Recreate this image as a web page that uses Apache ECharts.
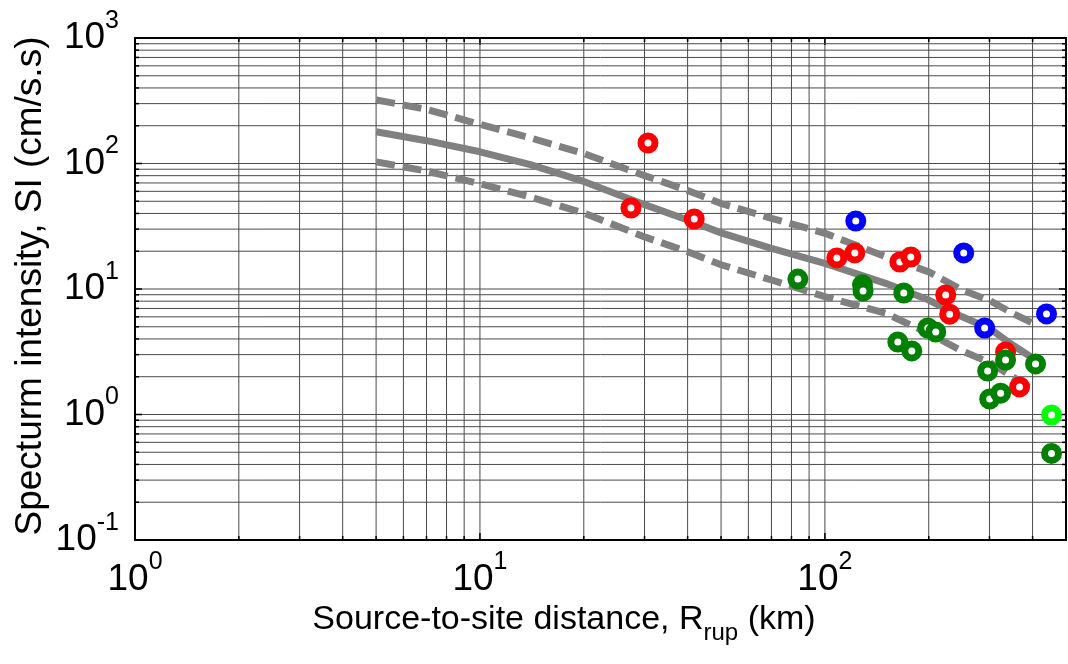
<!DOCTYPE html>
<html>
<head>
<meta charset="utf-8">
<script src="https://cdn.jsdelivr.net/npm/echarts@6/dist/echarts.min.js"></script>
<style>
  html, body { margin: 0; padding: 0; background: #fff; }
  #chart { width: 1068px; height: 664px; }
</style>
</head>
<body>
<div id="chart"></div>
<script>
// Rupture distance (km) at which the attenuation model curves are sampled
const curveDistance = [5, 7, 10, 14, 20, 30, 40, 50, 70, 100, 150, 200, 250, 300, 350, 400];
// Median prediction and median +/- one standard deviation (cm/s.s)
const curveMedian = [179, 152, 124, 98, 72, 47, 35.5, 28, 21.1, 16.0, 11.1, 8.17, 6.0, 4.85, 3.58, 2.82];
const curveUpper  = [321, 270, 205, 160, 120, 80, 61, 48, 36.6, 27.8, 18.1, 13.7, 9.8, 8.1, 6.4, 5.36];
const curveLower  = [103, 87, 69, 54, 40.3, 26, 19.8, 15.6, 11.8, 8.69, 6.4, 4.43, 3.2, 2.6, 2.0, 1.57];

// Recorded stations: [distance km, SI cm/s.s]
const redStations = [[30.7, 145.6], [27.4, 44.2], [41.8, 36.1], [108.3, 17.7], [122.1, 19.4],
  [164.9, 16.4], [177.4, 18.0], [224, 8.96], [230, 6.3], [334, 3.15], [366.7, 1.66]];
const blueStations = [[122.9, 34.8], [252.6, 19.4], [290.5, 4.89], [439, 6.33]];
const greenStations = [[83.5, 12.0], [128.5, 10.8], [129, 9.64], [169.3, 9.3], [198.7, 4.89],
  [209.6, 4.54], [162.7, 3.78], [178.6, 3.21], [334, 2.72], [296.4, 2.22], [300.4, 1.33],
  [323.2, 1.48], [408, 2.53], [454, 0.49]];
const limeStations = [[454, 0.99]];

// Axis ranges and decade tick positions
const xRange = [1, 500];
const yRange = [0.1, 1000];
const xDecades = [1, 10, 100];
const yDecades = [0.1, 1, 10, 100];
const minorSteps = [1, 2, 3, 4, 5, 6, 7, 8, 9];

const xGridValues = [];
xDecades.forEach(d => minorSteps.forEach(m => {
  const v = +(d * m).toPrecision(6);
  if (v > xRange[0] && v < xRange[1]) xGridValues.push(v);
}));
const yGridValues = [];
yDecades.forEach(d => minorSteps.forEach(m => {
  const v = +(d * m).toPrecision(6);
  if (v > yRange[0] && v < yRange[1]) yGridValues.push(v);
}));

const FONT = '"Liberation Sans", Arial, sans-serif';
const GRID_COLOR = '#4a4a4a';

function isDecade(v) {
  const l = Math.log10(v);
  return Math.abs(l - Math.round(l)) < 1e-6;
}

function powerLabel(v) {
  if (!isDecade(v)) return '';
  return '{b|10}{e|' + Math.round(Math.log10(v)) + '}';
}

const labelRich = {
  b: { fontSize: 37, fontFamily: FONT, color: '#000' },
  e: { fontSize: 25, fontFamily: FONT, color: '#000', padding: [0, 0, 34, 0] }
};

// Vertical grid lines with inward ticks at the bottom and top
function renderVertical(params, api) {
  const v = api.value(0);
  const p0 = api.coord([v, yRange[0]]);
  const p1 = api.coord([v, yRange[1]]);
  const t = isDecade(v) ? 7 : 4;
  return {
    type: 'group',
    children: [
      { type: 'line', shape: { x1: p0[0], y1: p0[1], x2: p1[0], y2: p1[1] },
        style: { stroke: GRID_COLOR, lineWidth: 1 } },
      { type: 'line', shape: { x1: p0[0], y1: p0[1], x2: p0[0], y2: p0[1] - t },
        style: { stroke: '#000', lineWidth: 1.5 } },
      { type: 'line', shape: { x1: p1[0], y1: p1[1], x2: p1[0], y2: p1[1] + t },
        style: { stroke: '#000', lineWidth: 1.5 } }
    ]
  };
}

// Horizontal grid lines with inward ticks at the left and right
function renderHorizontal(params, api) {
  const v = api.value(1);
  const p0 = api.coord([xRange[0], v]);
  const p1 = api.coord([xRange[1], v]);
  const t = isDecade(v) ? 7 : 4;
  return {
    type: 'group',
    children: [
      { type: 'line', shape: { x1: p0[0], y1: p0[1], x2: p1[0], y2: p1[1] },
        style: { stroke: GRID_COLOR, lineWidth: 1 } },
      { type: 'line', shape: { x1: p0[0], y1: p0[1], x2: p0[0] + t, y2: p0[1] },
        style: { stroke: '#000', lineWidth: 1.5 } },
      { type: 'line', shape: { x1: p1[0], y1: p1[1], x2: p1[0] - t, y2: p1[1] },
        style: { stroke: '#000', lineWidth: 1.5 } }
    ]
  };
}

function curve(values, dashed) {
  return {
    type: 'line',
    data: curveDistance.map((d, i) => [d, values[i]]),
    showSymbol: false,
    symbol: 'none',
    silent: true,
    z: 3,
    lineStyle: {
      color: '#808080',
      width: 7,
      type: dashed ? [19, 8] : 'solid',
      cap: 'butt'
    }
  };
}

function stations(data, color) {
  return {
    type: 'scatter',
    data: data,
    symbol: 'circle',
    symbolSize: 14,
    z: 5,
    itemStyle: { color: '#fff', borderColor: color, borderWidth: 7, opacity: 1 }
  };
}

const chart = echarts.init(document.getElementById('chart'), null, { renderer: 'canvas' });
chart.setOption({
  animation: false,
  backgroundColor: '#fff',
  grid: {
    left: 135, right: 2, top: 38, bottom: 124,
    show: true, borderColor: '#000', borderWidth: 2, backgroundColor: 'transparent', z: 10
  },
  xAxis: {
    type: 'log', logBase: 10, min: xRange[0], max: xRange[1],
    axisLine: { show: false }, axisTick: { show: false }, splitLine: { show: false },
    axisLabel: { formatter: powerLabel, rich: labelRich, margin: 10, showMaxLabel: false }
  },
  yAxis: {
    type: 'log', logBase: 10, min: yRange[0], max: yRange[1],
    axisLine: { show: false }, axisTick: { show: false }, splitLine: { show: false },
    axisLabel: { formatter: powerLabel, rich: labelRich, margin: 16 }
  },
  series: [
    { type: 'custom', renderItem: renderVertical, silent: true, z: 1,
      data: xGridValues.map(v => [v, 1]), encode: { x: 0, y: 1 } },
    { type: 'custom', renderItem: renderHorizontal, silent: true, z: 1,
      data: yGridValues.map(v => [1, v]), encode: { x: 0, y: 1 } },
    curve(curveUpper, true),
    curve(curveMedian, false),
    curve(curveLower, true),
    stations(redStations, '#ff0000'),
    stations(blueStations, '#0000ff'),
    stations(greenStations, '#008000'),
    stations(limeStations, '#00ff00')
  ],
  graphic: [
    {
      type: 'text', x: 564, y: 620,
      style: {
        text: '{t|Source-to-site distance, R}{s|rup}{t| (km)}',
        align: 'center', verticalAlign: 'middle',
        rich: {
          t: { fontSize: 34, fontFamily: FONT, fill: '#000' },
          s: { fontSize: 24, fontFamily: FONT, fill: '#000', padding: [26, 0, 0, 0] }
        }
      }
    },
    {
      type: 'text', x: 31, y: 286, rotation: Math.PI / 2,
      style: {
        text: 'Specturm intensity, SI (cm/s.s)',
        align: 'center', verticalAlign: 'middle',
        fontSize: 37, fontFamily: FONT, fill: '#000'
      }
    }
  ]
});
</script>
</body>
</html>
